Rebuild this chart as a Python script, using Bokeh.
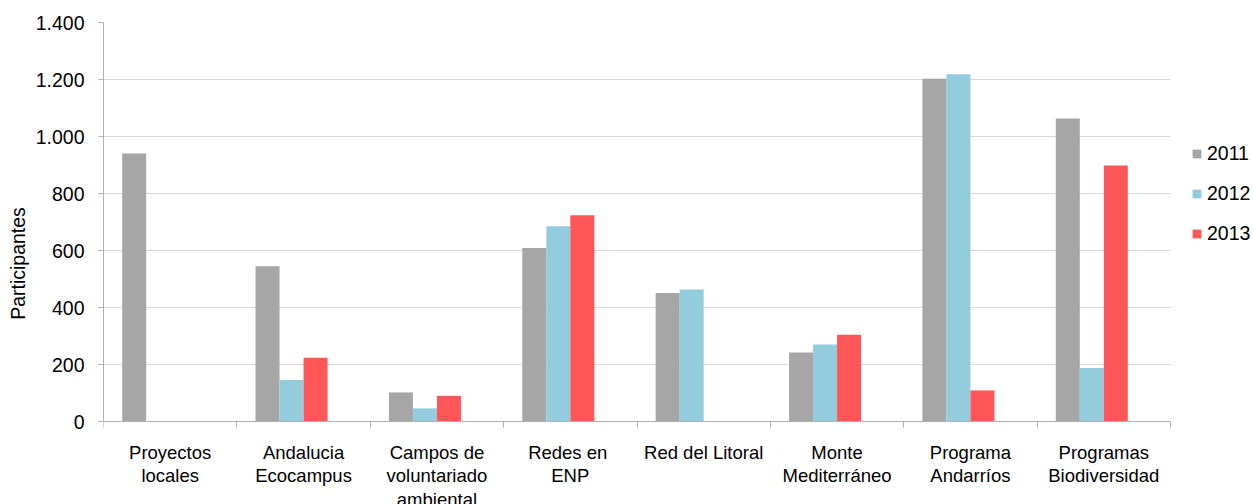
import numpy as np
from bokeh.plotting import figure
from bokeh.models import FixedTicker, Legend, LegendItem, Grid, BoxAnnotation
from bokeh.embed import file_html
from bokeh.resources import INLINE

categories = ["Proyectos\nlocales", "Andalucia\nEcocampus", "Campos de\nvoluntariado\nambiental",
              "Redes  en\nENP", "Red del Litoral", "Monte\nMediterráneo", "Programa\nAndarríos",
              "Programas\nBiodiversidad"]
v2011 = [940, 545, 102, 609, 451, 242, 1203, 1063]
v2012 = [0, 146, 46, 685, 463, 270, 1218, 188]
v2013 = [0, 224, 90, 724, 0, 304, 109, 898]
series_names = ["2011", "2012", "2013"]
y_ticks = [0, 200, 400, 600, 800, 1000, 1200, 1400]
y_tick_labels = ["0", "200", "400", "600", "800", "1.000", "1.200", "1.400"]

colors = ["#A6A6A6", "#93CDDD", "#FF5757"]
FONT = "Liberation Sans"
AXIS_COLOR = "#B0B0B0"

# layout (pixels)
W, H = 1253, 504
LEFT, TOP = 103, 22
PLOT_W, PLOT_H = 1067, 399          # size of the data area
n = len(categories)
y_max = y_ticks[-1]
frame_w = W - LEFT
frame_h = H - TOP
x_hi = n * frame_w / PLOT_W
y_lo = y_max - y_max * frame_h / PLOT_H

p = figure(width=W, height=H, output_backend="svg", toolbar_location=None,
           x_range=(0, x_hi), y_range=(y_lo, y_max),
           min_border_left=LEFT, min_border_right=0, min_border_top=TOP, min_border_bottom=0)
p.outline_line_color = None
p.background_fill_color = "white"
p.border_fill_color = "white"

centers = np.arange(n) + 0.5
offsets = [-0.27, -0.09, 0.09]
width = 0.18
renderers = []
for vals, off, col in zip([v2011, v2012, v2013], offsets, colors):
    r = p.vbar(x=centers + off, top=vals, width=width, bottom=0,
               fill_color=col, line_color=None)
    renderers.append(r)

# x axis fixed at y=0: labels at category centres, tick marks between categories
xa = p.xaxis[0]
xa.fixed_location = 0
xa.bounds = (0, n)
xa.ticker = FixedTicker(ticks=list(centers), minor_ticks=list(range(n + 1)))
xa.major_label_overrides = {float(c): t for c, t in zip(centers, categories)}
xa.major_label_text_font = FONT
xa.major_label_text_font_size = "18.5px"
xa.major_label_text_color = "black"
xa.major_label_text_line_height = 1.14
xa.major_label_standoff = 14
xa.major_tick_line_color = None
xa.major_tick_out = 0
xa.major_tick_in = 0
xa.minor_tick_out = 6
xa.minor_tick_in = 0
xa.minor_tick_line_color = AXIS_COLOR
xa.axis_line_color = AXIS_COLOR
p.xgrid.grid_line_color = None

# y axis
ya = p.yaxis[0]
ya.bounds = (0, y_max)
ya.ticker = FixedTicker(ticks=y_ticks)
ya.major_label_overrides = {t: l for t, l in zip(y_ticks, y_tick_labels)}
ya.major_label_text_font = FONT
ya.major_label_text_font_size = "19.5px"
ya.major_label_text_color = "black"
ya.major_label_standoff = 14
ya.major_tick_out = 5
ya.major_tick_in = 0
ya.minor_tick_line_color = None
ya.axis_line_color = AXIS_COLOR
ya.major_tick_line_color = AXIS_COLOR
ya.axis_label = "Participantes"
ya.axis_label_text_font = FONT
ya.axis_label_text_font_size = "19.5px"
ya.axis_label_text_font_style = "normal"
ya.axis_label_text_color = "black"
ya.axis_label_standoff = 4

yg = p.ygrid[0]
yg.grid_line_color = "#D9D9D9"
yg.grid_line_width = 1
if "cross_bounds" in Grid.properties():
    yg.cross_bounds = (0, n)
else:
    p.add_layout(BoxAnnotation(left=n, fill_color="white", fill_alpha=1, line_color=None,
                               level="underlay"))

legend = Legend(items=[LegendItem(label=s, renderers=[r]) for s, r in zip(series_names, renderers)],
                location=(1088, 259), orientation="vertical",
                glyph_width=11, glyph_height=11, label_height=24, spacing=16,
                label_standoff=5, padding=0, margin=0,
                label_text_font=FONT, label_text_font_size="19.5px", label_text_color="black",
                border_line_color=None, background_fill_alpha=0)
p.add_layout(legend)

open("out.html", "w").write(file_html(p, INLINE))
